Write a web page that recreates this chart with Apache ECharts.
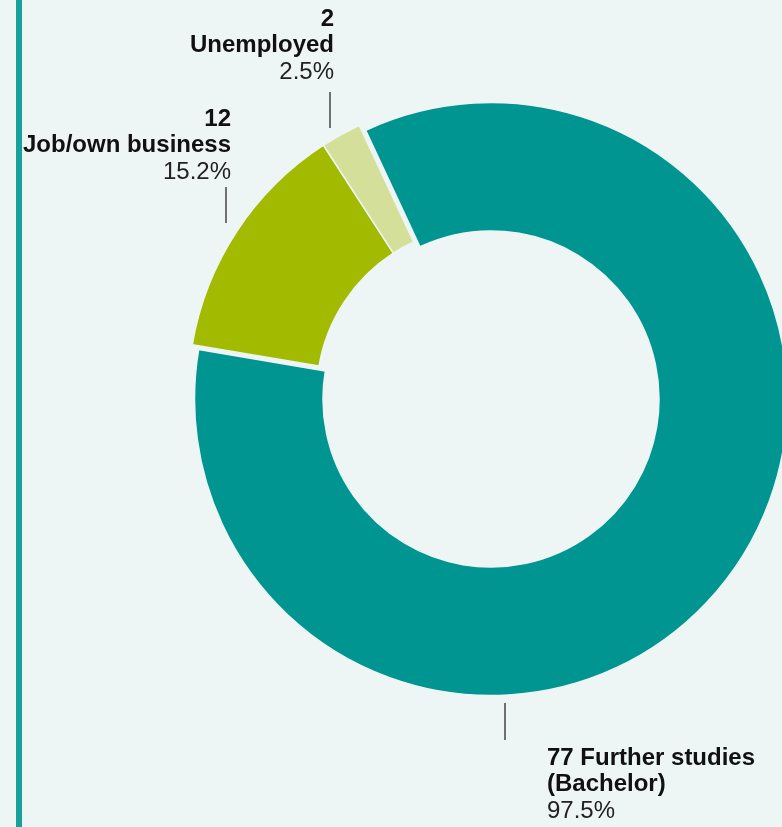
<!DOCTYPE html>
<html>
<head>
<meta charset="utf-8">
<script src="https://cdn.jsdelivr.net/npm/echarts@6/dist/echarts.min.js"></script>
<style>
html,body{margin:0;padding:0;background:#EDF6F4;}
#chart{width:782px;height:827px;}
</style>
</head>
<body>
<div id="chart"></div>
<script>
const categories = ['Further studies (Bachelor)', 'Job/own business', 'Unemployed'];
const counts = [77, 12, 2];
const percents = [97.5, 15.2, 2.5];
const colors = ['#009591', '#A2BB00', '#D4E09A'];
const exploded = [false, true, true];

const FONT = '"Liberation Sans", Arial, Helvetica, sans-serif';
const BG = '#EDF6F4';

function labelText(i) {
  if (i === 0) {
    return '{b|' + counts[i] + ' Further studies}\n{b|(Bachelor)}\n{p|' + percents[i].toFixed(1) + '%}';
  }
  return '{b|' + counts[i] + '}\n{b|' + categories[i] + '}\n{p|' + percents[i].toFixed(1) + '%}';
}

// label anchor layout (positions only)
const labelPos = [
  {x: 547, y: 745, align: 'left', line: [[505, 703], [505, 740]]},
  {x: 231, y: 106, align: 'right', line: [[226, 187], [226, 223]]},
  {x: 334, y: 6, align: 'right', line: [[330, 92], [330, 128]]}
];

const CENTER = [491, 399];
const RADIUS = [168, 296.5];
const START = 115;
const EXPLODE = 8;

// offset of the exploded group along its mid angle
const total = counts.reduce((a, b) => a + b, 0);
let before = 0, groupSum = 0, groupStart = null;
counts.forEach((v, i) => {
  if (exploded[i]) { if (groupStart === null) groupStart = before; groupSum += v; }
  before += v;
});
const midClock = (90 - START) + 360 * (groupStart + groupSum / 2) / total;
const rad = midClock * Math.PI / 180;
const CENTER2 = [CENTER[0] + EXPLODE * Math.sin(rad), CENTER[1] - EXPLODE * Math.cos(rad)];

function ringData(showExploded) {
  return categories.map((c, i) => {
    const visible = exploded[i] === showExploded;
    return {
      name: c,
      value: counts[i],
      itemStyle: visible
        ? {color: colors[i], borderColor: BG, borderWidth: 1.5}
        : {color: 'rgba(0,0,0,0)', borderWidth: 0}
    };
  });
}

const baseRing = {
  type: 'pie',
  radius: RADIUS,
  startAngle: START,
  clockwise: true,
  avoidLabelOverlap: false,
  silent: true,
  emphasis: {disabled: true},
  label: {show: false},
  labelLine: {show: false}
};

const chart = echarts.init(document.getElementById('chart'), null, {renderer: 'canvas'});
chart.setOption({
  backgroundColor: BG,
  animation: false,
  graphic: [{
    type: 'rect', shape: {x: 16, y: 0, width: 6, height: 827},
    style: {fill: '#16A19B'}, silent: true
  }],
  series: [
    Object.assign({}, baseRing, {center: CENTER, data: ringData(false)}),
    Object.assign({}, baseRing, {center: CENTER2, data: ringData(true)}),
    {
      type: 'pie',
      center: CENTER,
      radius: RADIUS,
      startAngle: START,
      clockwise: true,
      avoidLabelOverlap: false,
      silent: true,
      itemStyle: {color: 'rgba(0,0,0,0)', borderWidth: 0},
      emphasis: {disabled: true},
      label: {
        show: true,
        position: 'outside',
        fontFamily: FONT,
        formatter: p => labelText(p.dataIndex),
        rich: {
          b: {fontFamily: FONT, fontWeight: 'bold', fontSize: 24, lineHeight: 26.5, color: '#111'},
          p: {fontFamily: FONT, fontSize: 24, lineHeight: 26.5, color: '#222'}
        }
      },
      labelLine: {show: true, lineStyle: {color: '#444', width: 1.5}},
      labelLayout: function (params) {
        const lp = labelPos[params.dataIndex];
        const pts = [lp.line[0], lp.line[1], lp.line[1]];
        return {x: lp.x, y: lp.y, align: lp.align, verticalAlign: 'top', labelLinePoints: pts};
      },
      data: categories.map((c, i) => ({name: c, value: counts[i]}))
    }
  ]
});
</script>
</body>
</html>
